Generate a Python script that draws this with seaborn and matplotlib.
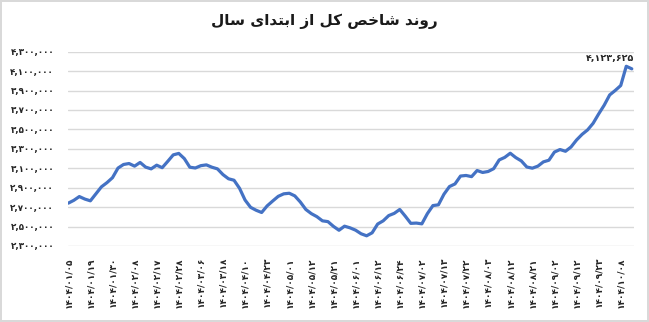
import matplotlib
matplotlib.use("Agg")
import matplotlib.pyplot as plt
import seaborn as sns
import pandas as pd

# ---------------- data ----------------
title_text = "روند شاخص کل از ابتدای سال"

tick_dates = [
    "۱۴۰۴/۰۱/۰۵", "۱۴۰۴/۰۱/۱۹", "۱۴۰۴/۰۱/۳۰", "۱۴۰۴/۰۲/۰۸", "۱۴۰۴/۰۲/۱۷",
    "۱۴۰۴/۰۲/۲۸", "۱۴۰۴/۰۳/۰۶", "۱۴۰۴/۰۳/۱۸", "۱۴۰۴/۰۴/۱۰", "۱۴۰۴/۰۴/۲۳",
    "۱۴۰۴/۰۵/۰۱", "۱۴۰۴/۰۵/۱۲", "۱۴۰۴/۰۵/۲۱", "۱۴۰۴/۰۶/۰۱", "۱۴۰۴/۰۶/۱۲",
    "۱۴۰۴/۰۶/۲۴", "۱۴۰۴/۰۷/۰۲", "۱۴۰۴/۰۷/۱۳", "۱۴۰۴/۰۷/۲۲", "۱۴۰۴/۰۸/۰۳",
    "۱۴۰۴/۰۸/۱۲", "۱۴۰۴/۰۸/۲۱", "۱۴۰۴/۰۹/۰۲", "۱۴۰۴/۰۹/۱۲", "۱۴۰۴/۰۹/۲۳",
    "۱۴۰۴/۱۰/۰۸",
]
tick_step = 4  # sampled sessions between labelled dates

values = [
    2741000, 2770000, 2809000, 2783000, 2765000, 2837000, 2909000, 2952000,
    3003000, 3102000, 3139000, 3149000, 3122000, 3160000, 3112000, 3094000,
    3132000, 3106000, 3171000, 3238000, 3253000, 3200000, 3111000, 3103000,
    3127000, 3135000, 3111000, 3094000, 3035000, 2992000, 2977000, 2894000,
    2773000, 2698000, 2668000, 2645000, 2713000, 2763000, 2811000, 2837000,
    2843000, 2816000, 2753000, 2676000, 2633000, 2602000, 2559000, 2551000,
    2502000, 2462000, 2504000, 2487000, 2463000, 2426000, 2405000, 2436000,
    2526000, 2559000, 2613000, 2636000, 2676000, 2607000, 2533000, 2536000,
    2528000, 2633000, 2716000, 2724000, 2833000, 2912000, 2939000, 3020000,
    3026000, 3014000, 3077000, 3057000, 3067000, 3096000, 3186000, 3212000,
    3255000, 3210000, 3176000, 3113000, 3101000, 3122000, 3166000, 3183000,
    3267000, 3293000, 3275000, 3319000, 3391000, 3449000, 3495000, 3563000,
    3659000, 3749000, 3855000, 3901000, 3952000, 4150000, 4123625,
]
last_label = "۴,۱۲۳,۶۲۵"

y_ticks = [2300000, 2500000, 2700000, 2900000, 3100000, 3300000,
           3500000, 3700000, 3900000, 4100000, 4300000]

# ---------------- helpers ----------------
FA_DIGITS = str.maketrans("0123456789", "۰۱۲۳۴۵۶۷۸۹")

# presentation forms: isolated, final, initial, medial
FORMS = {
    "ا": (0xFE8D, 0xFE8E, None, None),
    "ب": (0xFE8F, 0xFE90, 0xFE91, 0xFE92),
    "ت": (0xFE95, 0xFE96, 0xFE97, 0xFE98),
    "خ": (0xFEA5, 0xFEA6, 0xFEA7, 0xFEA8),
    "د": (0xFEA9, 0xFEAA, None, None),
    "ر": (0xFEAD, 0xFEAE, None, None),
    "ز": (0xFEAF, 0xFEB0, None, None),
    "س": (0xFEB1, 0xFEB2, 0xFEB3, 0xFEB4),
    "ش": (0xFEB5, 0xFEB6, 0xFEB7, 0xFEB8),
    "ص": (0xFEB9, 0xFEBA, 0xFEBB, 0xFEBC),
    "ک": (0xFB8E, 0xFB8F, 0xFB90, 0xFB91),
    "ل": (0xFEDD, 0xFEDE, 0xFEDF, 0xFEE0),
    "ن": (0xFEE5, 0xFEE6, 0xFEE7, 0xFEE8),
    "و": (0xFEED, 0xFEEE, None, None),
    "ی": (0xFBFC, 0xFBFD, 0xFBFE, 0xFBFF),
}


def shape_rtl(text):
    out = []
    for k, ch in enumerate(text):
        if ch not in FORMS:
            out.append(ch)
            continue
        prev = text[k - 1] if k > 0 else None
        nxt = text[k + 1] if k + 1 < len(text) else None
        jp = prev in FORMS and FORMS[prev][2] is not None
        jn = nxt in FORMS and FORMS[ch][2] is not None
        iso, fin, ini, med = FORMS[ch]
        if jp and jn:
            code = med
        elif jp:
            code = fin
        elif jn:
            code = ini
        else:
            code = iso
        out.append(chr(code))
    return "".join(reversed(out))


# ---------------- plot ----------------
df = pd.DataFrame({"idx": list(range(len(values))), "value": values})

sns.set_theme(style="white")
plt.rcParams["font.family"] = ["DejaVu Sans"]

fig = plt.figure(figsize=(6.49, 3.22), dpi=100, facecolor="white",
                 edgecolor="#d9d9d9", linewidth=1.5)
ax = fig.add_axes([68 / 649, 1 - 246 / 322, (634 - 68) / 649, (246 - 51.7) / 322])

sns.lineplot(data=df, x="idx", y="value", ax=ax, color="#4472C4",
             linewidth=2.3, solid_capstyle="round", solid_joinstyle="round")

ax.set_ylim(y_ticks[0], y_ticks[-1])
ax.set_xlim(-0.05, len(values) - 1 + 0.4)
ax.set_yticks(y_ticks)
ax.set_yticklabels([f"{v:,}".translate(FA_DIGITS) for v in y_ticks],
                   fontsize=6.3, fontweight="bold", color="#262626")
ax.set_xticks([i * tick_step for i in range(len(tick_dates))])
ax.set_xticklabels(tick_dates, rotation=90, fontsize=6.5, fontweight="bold",
                   color="#262626", va="top", ha="center")
ax.tick_params(axis="both", length=0)
ax.tick_params(axis="y", pad=10)
ax.tick_params(axis="x", pad=8)

ax.grid(axis="y", color="#d9d9d9", linewidth=1)
ax.grid(axis="x", visible=False)
for s in ax.spines.values():
    s.set_visible(False)
ax.set_xlabel("")
ax.set_ylabel("")

ax.annotate(last_label, xy=(len(values) - 1, values[-1]), xytext=(2, 6),
            textcoords="offset pixels", ha="right", va="bottom",
            fontsize=6.8, fontweight="bold", color="#262626")

fig.text(0.5, 1 - 21 / 322, shape_rtl(title_text), ha="center", va="center",
         fontsize=11, fontweight="bold", color="#1a1a1a")

fig.savefig("out.png", dpi=100)
